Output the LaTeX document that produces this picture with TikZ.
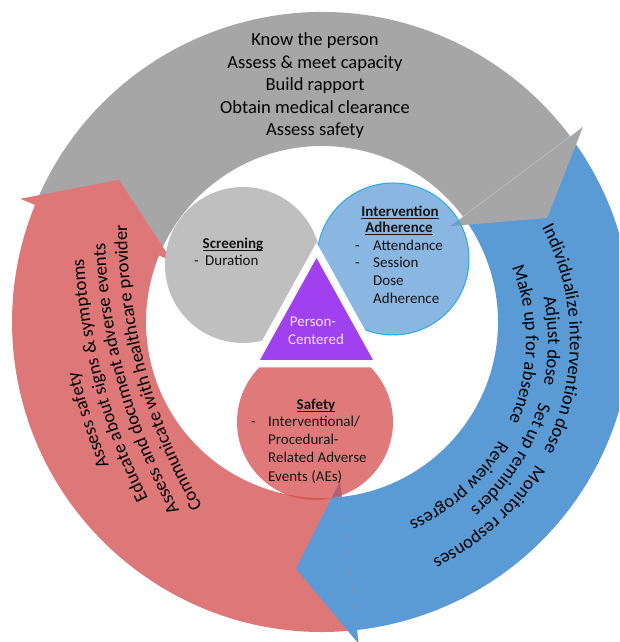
\documentclass[tikz,border=0pt]{standalone}
\usepackage{fontspec}
\setmainfont{Carlito}
\usetikzlibrary{decorations.text}

\definecolor{bandgray}{RGB}{166,166,166}
\definecolor{bandblue}{RGB}{91,155,213}
\definecolor{bandred}{RGB}{222,120,120}
\definecolor{discgray}{RGB}{191,191,191}
\definecolor{discedge}{RGB}{45,170,225}
\definecolor{discred}{RGB}{214,78,78}
\definecolor{tripurple}{RGB}{160,64,238}
\definecolor{trilabel}{RGB}{240,226,255}
\definecolor{inktext}{RGB}{20,20,20}

\newcommand{\ringfont}{\fontsize{18.5}{22.5}\selectfont}
\newcommand{\discfont}{\fontsize{15}{18}\selectfont}
% bold heading with a rule just under the baseline
\newcommand{\ulbold}[1]{\setbox0=\hbox{\textbf{#1}}\rlap{\rule[-2.4pt]{\wd0}{1.1pt}}\box0}

\begin{document}
\begin{tikzpicture}[x=1pt,y=1pt,
  ringlabel/.style={font=\ringfont, text=black, align=center, inner sep=0pt},
  disclabel/.style={font=\discfont, text=inktext, inner sep=0pt, anchor=base},
  listlabel/.style={font=\discfont, text=inktext, inner sep=0pt, anchor=base west},
  arclabel/.style={decorate, decoration={text along path, text align=center, text={|\ringfont|#1}}}
]
\useasboundingbox (0,0) rectangle (619,642);
\clip (0,0) rectangle (619,642);

\coordinate (O) at (322,320);

% ---- ring bands (each runs a little under the next one, below the arrow head)
\fill[bandgray] ([shift={(157.8:310)}]O) arc[start angle=157.8,end angle=35.8,radius=310]
  -- ([shift={(35.8:176)}]O) arc[start angle=35.8,end angle=157.8,radius=176] -- cycle;
\fill[bandblue] ([shift={(36.8:310)}]O) arc[start angle=36.8,end angle=-84.5,radius=310]
  -- ([shift={(-84.5:176)}]O) arc[start angle=-84.5,end angle=36.8,radius=176] -- cycle;
\fill[bandred] ([shift={(276.5:310)}]O) arc[start angle=276.5,end angle=156.8,radius=310]
  -- ([shift={(156.8:176)}]O) arc[start angle=156.8,end angle=276.5,radius=176] -- cycle;

% ---- arrow heads
\fill[bandgray] ([shift={(36.8:326)}]O) -- ([shift={(24.8:248)}]O) -- ([shift={(36.8:160)}]O) -- cycle;
\draw[white, opacity=0.35, line width=0.6pt] ([shift={(36.8:324)}]O) -- ([shift={(36.8:162)}]O);
\fill[bandblue] ([shift={(-83.5:324)}]O) -- ([shift={(-96:248)}]O) -- ([shift={(-83.5:160)}]O) -- cycle;
\fill[bandred] ([shift={(157.8:326)}]O) -- ([shift={(145:248)}]O) -- ([shift={(157.8:162)}]O) -- cycle;

% ---- text on the top band
\node[ringlabel] (topsteps) at (315,556)
  {Know the person\\Assess \& meet capacity\\Build rapport\\Obtain medical clearance\\Assess safety};

% ---- text on the left band
\coordinate (rc) at (690,417);
\path[arclabel={Assess safety}] ([shift={(218:629)}]rc) arc[start angle=218,end angle=178,radius=629];
\path[arclabel={Educate about signs {\&} symptoms}] ([shift={(215:607)}]rc) arc[start angle=215,end angle=175,radius=607];
\path[arclabel={Assess and document adverse events}] ([shift={(215.5:585)}]rc) arc[start angle=215.5,end angle=175.5,radius=585];
\path[arclabel={Communicate with healthcare provider}] ([shift={(215:563)}]rc) arc[start angle=215,end angle=175,radius=563];

% ---- text on the right band
\coordinate (bc) at (328,301);
\path[arclabel={Individualize intervention dose}] ([shift={(40.5:242)}]bc) arc[start angle=40.5,end angle=-39.5,radius=242];
\path[arclabel={Monitor responses}] ([shift={(-17.6:242)}]bc) arc[start angle=-17.6,end angle=-77.6,radius=242];
\path[arclabel={Adjust dose}] ([shift={(30:220)}]bc) arc[start angle=30,end angle=-30,radius=220];
\path[arclabel={Set up reminders}] ([shift={(-3:220)}]bc) arc[start angle=-3,end angle=-63,radius=220];
\path[arclabel={Make up for absence}] ([shift={(34:198)}]bc) arc[start angle=34,end angle=-36,radius=198];
\path[arclabel={Review progress}] ([shift={(-18:198)}]bc) arc[start angle=-18,end angle=-78,radius=198];

% ---- inner discs
\fill[discgray] (243,377) circle[radius=78];
\filldraw[fill=bandblue, fill opacity=0.72, draw=discedge, line width=1pt] (393,383) circle[radius=76];
\fill[discred, fill opacity=0.75] (315,220) circle[radius=78];

% ---- central triangle with a white margin
\coordinate (tA) at (316.5,384);
\coordinate (tL) at (260,282);
\coordinate (tR) at (373,282);
\draw[white, line width=15pt, line join=miter] (tA) -- (tL) -- (tR) -- cycle;
\fill[tripurple] (tA) -- (tL) -- (tR) -- cycle;

% ---- disc labels
\node[disclabel] (scrTitle) at (233,393.5) {\ulbold{Screening}};
\node[listlabel] (scrDash) at (194,376.5) {-};
\node[listlabel] (scrItem) at (205,376.5) {Duration};

\node[disclabel] (iaTitleA) at (400,425.5) {\ulbold{Intervention}};
\node[disclabel] (iaTitleB) at (399,409.5) {\ulbold{Adherence}};
\node[listlabel] (iaDashA) at (355,391.5) {-};
\node[listlabel] (iaItemA) at (373,391.5) {Attendance};
\node[listlabel] (iaDashB) at (355,374) {-};
\node[listlabel] (iaItemB) at (373,374) {Session};
\node[listlabel] (iaItemC) at (373,356) {Dose};
\node[listlabel] (iaItemD) at (373,338.5) {Adherence};

\node[disclabel, text=trilabel] (pcA) at (313,315) {Person-};
\node[disclabel, text=trilabel] (pcB) at (316,297) {Centered};

\node[disclabel] (sfTitle) at (316,232.5) {\ulbold{Safety}};
\node[listlabel] (sfDash) at (251,215.5) {-};
\node[listlabel] (sfA) at (268,215.5) {Interventional/};
\node[listlabel] (sfB) at (268,197.5) {Procedural-};
\node[listlabel] (sfC) at (268,179.5) {Related Adverse};
\node[listlabel] (sfD) at (268,160.5) {Events (AEs)};
\end{tikzpicture}
\end{document}
